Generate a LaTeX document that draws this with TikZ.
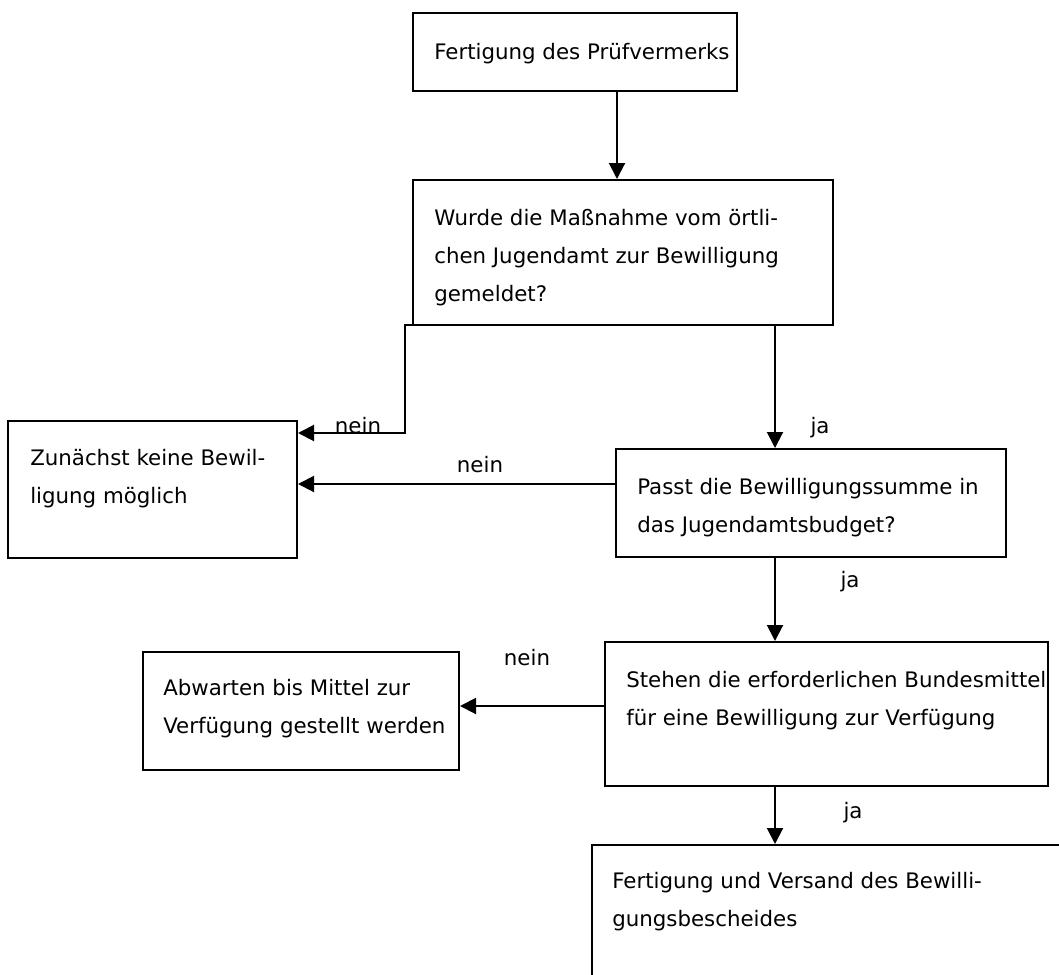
\documentclass[tikz,border=0pt]{standalone}
\usepackage{fontspec}
\setmainfont{DejaVu Sans}
\usetikzlibrary{fit,arrows.meta}
\tikzset{
  box/.style={draw, line width=1.5pt, inner sep=0pt, rectangle},
  txt/.style={anchor=base west, inner sep=0pt, font=\fontsize{16}{28.5}\selectfont},
  lbl/.style={anchor=base, inner sep=0pt, font=\fontsize{16}{18}\selectfont},
  arr/.style={line width=1.5pt, -{Triangle[length=12pt,width=12pt]}}
}
\begin{document}
\begin{tikzpicture}[x=0.75pt,y=-0.75pt]
\useasboundingbox (0,0) rectangle (1059,974);
\clip (0,0) rectangle (1059,974);
% boxes
\node[box, fit={(413,13)(737,91)}] (top) {};
\node[box, fit={(413,180)(833,325)}] (q1) {};
\node[box, fit={(8,421)(297,558)}] (stop) {};
\node[box, fit={(616,449)(1006,557)}] (q2) {};
\node[box, fit={(143,652)(459,770)}] (wait) {};
\node[box, fit={(605,642)(1048,786)}] (q3) {};
\node[box, fit={(592,845)(1080,1000)}] (done) {};
% texts
\node[txt] (ttop) at (434,60) {Fertigung des Prüfvermerks};
\node[txt] (tq1) at (434,225) {\vtop{\hbox{Wurde die Maßnahme vom örtli-}\hbox{chen Jugendamt zur Bewilligung}\hbox{gemeldet?}}};
\node[txt] (tstop) at (30,465) {\vtop{\hbox{Zunächst keine Bewil-}\hbox{ligung möglich}}};
\node[txt] (tq2) at (637,494) {\vtop{\hbox{Passt die Bewilligungssumme in}\hbox{das Jugendamtsbudget?}}};
\node[txt] (twait) at (163,695) {\vtop{\hbox{Abwarten bis Mittel zur}\hbox{Verfügung gestellt werden}}};
\node[txt] (tq3) at (626,687) {\vtop{\hbox{Stehen die erforderlichen Bundesmittel}\hbox{für eine Bewilligung zur Verfügung}}};
\node[txt] (tdone) at (612,888) {\vtop{\hbox{Fertigung und Versand des Bewilli-}\hbox{gungsbescheides}}};
% helper coordinates
\coordinate (xa) at (617,0);
\coordinate (xb) at (775,0);
\coordinate (k0) at (512,325);
\coordinate (k1) at (405,433);
\coordinate (ya) at (0,484);
\coordinate (yb) at (0,706);
% connectors
\draw[arr] (top.south -| xa) -- (q1.north -| xa);
\draw[arr] (k0) -| (k1) -- (stop.east |- k1);
\draw[arr] (q1.south -| xb) -- (q2.north -| xb);
\draw[arr] (q2.west |- ya) -- (stop.east |- ya);
\draw[arr] (q2.south -| xb) -- (q3.north -| xb);
\draw[arr] (q3.west |- yb) -- (wait.east |- yb);
\draw[arr] (q3.south -| xb) -- (done.north -| xb);
% labels
\node[lbl] (n1) at (358,433) {nein};
\node[lbl] (j1) at (820,433) {ja};
\node[lbl] (n2) at (480,472) {nein};
\node[lbl] (j2) at (850,587) {ja};
\node[lbl] (n3) at (527,665) {nein};
\node[lbl] (j3) at (853,818) {ja};
\end{tikzpicture}
\end{document}
